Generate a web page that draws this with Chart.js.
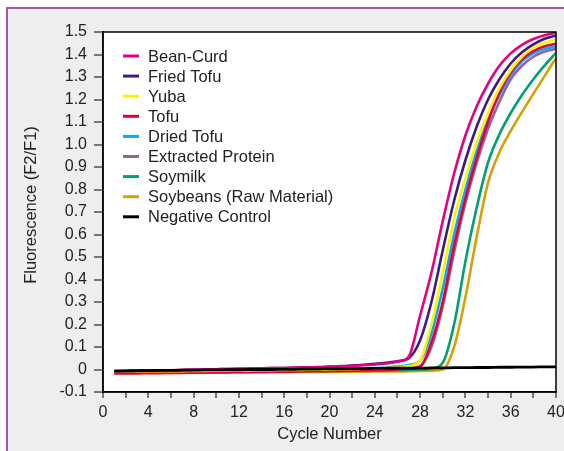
<!DOCTYPE html>
<html>
<head>
<meta charset="utf-8">
<script src="https://cdn.jsdelivr.net/npm/chart.js@4.4.1/dist/chart.umd.min.js"></script>
<style>
  html, body { margin: 0; padding: 0; background: #ffffff; }
  #wrap { position: relative; width: 564px; height: 451px; overflow: hidden; }
</style>
</head>
<body>
<div id="wrap"><canvas id="pcrChart" width="564" height="451"></canvas></div>
<script>
// Cycle numbers (x values)
const cycles = [1, 2, 3, 4, 5, 6, 7, 8, 9, 10, 11, 12, 13, 14, 15, 16, 17, 18, 19, 20,
  21, 22, 23, 24, 25, 26, 27, 28, 29, 30, 31, 32, 33, 34, 35, 36, 37, 38, 39, 40];

// Series names and colours
const seriesNames = ["Bean-Curd", "Fried Tofu", "Yuba", "Tofu", "Dried Tofu",
  "Extracted Protein", "Soymilk", "Soybeans (Raw Material)", "Negative Control"];
const seriesColors = ["#e4007f", "#3d1a86", "#fff200", "#e60033", "#00aeef",
  "#9b5ca6", "#00a170", "#d6a100", "#000000"];

// Fluorescence values
const beanCurd = [-0.008, -0.007, -0.006, -0.005, -0.004, -0.003, -0.002, -0.001, 0.000, 0.001,
  0.002, 0.003, 0.004, 0.005, 0.006, 0.007, 0.008, 0.009, 0.010, 0.012,
  0.014, 0.016, 0.019, 0.022, 0.027, 0.035, 0.058, 0.24, 0.43, 0.66,
  0.87, 1.04, 1.17, 1.27, 1.35, 1.405, 1.443, 1.469, 1.486, 1.497];
const friedTofu = [-0.008, -0.007, -0.006, -0.005, -0.004, -0.003, -0.002, -0.001, 0.000, 0.001,
  0.002, 0.003, 0.004, 0.005, 0.006, 0.007, 0.009, 0.010, 0.011, 0.013,
  0.015, 0.018, 0.021, 0.025, 0.030, 0.037, 0.050, 0.13, 0.30, 0.53,
  0.75, 0.93, 1.08, 1.20, 1.29, 1.36, 1.41, 1.445, 1.47, 1.485];
const yuba = [-0.010, -0.009, -0.009, -0.008, -0.008, -0.007, -0.007, -0.006, -0.006, -0.005,
  -0.005, -0.004, -0.004, -0.003, -0.003, -0.002, -0.002, -0.001, -0.001, 0.000,
  0.001, 0.002, 0.003, 0.004, 0.006, 0.009, 0.015, 0.04, 0.20, 0.43,
  0.67, 0.85, 1.01, 1.14, 1.25, 1.33, 1.39, 1.43, 1.452, 1.466];
const tofu = [-0.018, -0.017, -0.017, -0.016, -0.016, -0.015, -0.015, -0.014, -0.014, -0.013,
  -0.013, -0.012, -0.012, -0.011, -0.010, -0.010, -0.009, -0.008, -0.008, -0.007,
  -0.006, -0.005, -0.004, -0.003, -0.002, 0.000, 0.004, 0.012, 0.12, 0.30,
  0.55, 0.76, 0.94, 1.10, 1.23, 1.32, 1.38, 1.415, 1.437, 1.448];
const driedTofu = [-0.012, -0.011, -0.011, -0.010, -0.010, -0.009, -0.009, -0.008, -0.008, -0.007,
  -0.007, -0.006, -0.006, -0.005, -0.004, -0.004, -0.003, -0.002, -0.001, 0.000,
  0.001, 0.002, 0.004, 0.006, 0.009, 0.013, 0.020, 0.04, 0.16, 0.36,
  0.60, 0.80, 0.97, 1.11, 1.22, 1.31, 1.37, 1.405, 1.425, 1.436];
const extractedProtein = [-0.012, -0.012, -0.011, -0.011, -0.010, -0.010, -0.009, -0.009, -0.008, -0.008,
  -0.007, -0.007, -0.006, -0.006, -0.006, -0.005, -0.005, -0.005, -0.004, -0.004,
  -0.003, -0.003, -0.002, -0.001, 0.000, 0.002, 0.006, 0.016, 0.10, 0.28,
  0.52, 0.74, 0.92, 1.07, 1.19, 1.29, 1.35, 1.39, 1.413, 1.425];
const soymilk = [-0.010, -0.010, -0.010, -0.009, -0.009, -0.009, -0.009, -0.008, -0.008, -0.008,
  -0.008, -0.007, -0.007, -0.007, -0.007, -0.006, -0.006, -0.006, -0.006, -0.006,
  -0.005, -0.005, -0.005, -0.004, -0.004, -0.003, -0.002, 0.000, 0.004, 0.03,
  0.20, 0.48, 0.72, 0.92, 1.045, 1.14, 1.22, 1.29, 1.352, 1.407];
const soybeans = [-0.015, -0.015, -0.015, -0.014, -0.014, -0.014, -0.014, -0.013, -0.013, -0.013,
  -0.013, -0.012, -0.012, -0.012, -0.012, -0.012, -0.011, -0.011, -0.011, -0.011,
  -0.010, -0.010, -0.010, -0.009, -0.009, -0.009, -0.008, -0.007, -0.005, 0.000,
  0.10, 0.32, 0.59, 0.83, 0.965, 1.06, 1.145, 1.225, 1.305, 1.384];
const negativeControl = [-0.006, -0.006, -0.005, -0.005, -0.004, -0.004, -0.003, -0.003, -0.002, -0.002,
  -0.001, -0.001, 0.000, 0.000, 0.000, 0.001, 0.001, 0.002, 0.002, 0.003,
  0.003, 0.004, 0.004, 0.005, 0.005, 0.006, 0.006, 0.006, 0.007, 0.007,
  0.008, 0.008, 0.009, 0.009, 0.010, 0.010, 0.011, 0.011, 0.012, 0.012];

const seriesValues = [beanCurd, friedTofu, yuba, tofu, driedTofu,
  extractedProtein, soymilk, soybeans, negativeControl];

// Axis ranges and ticks
const xMin = 0, xMax = 40, xStep = 2, xLabelEvery = 4;
const yMin = -0.1, yMax = 1.5, yStep = 0.1;
const xTitle = "Cycle Number";
const yTitle = "Fluorescence (F2/F1)";

const FONT = "'Liberation Sans', Arial, sans-serif";
const TEXT_COLOR = "#222222";

// Build the datasets from the arrays
const datasets = seriesNames.map(function (name, i) {
  return {
    label: name,
    data: cycles.map((c, j) => ({ x: c, y: seriesValues[i][j] })),
    borderColor: seriesColors[i],
    backgroundColor: seriesColors[i],
    borderWidth: name === "Negative Control" ? 2.8 : 2.6,
    pointRadius: 0,
    cubicInterpolationMode: "monotone",
    fill: false,
    order: name === "Negative Control" ? -1 : 0,
  };
});

// Grey frame with purple edge, white plot area, black plot border
const framePlugin = {
  id: "frame",
  beforeDraw(chart) {
    const ctx = chart.ctx;
    const a = chart.chartArea;
    ctx.save();
    ctx.fillStyle = "#ffffff";
    ctx.fillRect(0, 0, chart.width, chart.height);
    ctx.fillStyle = "#eeeeee";
    ctx.fillRect(6, 7, chart.width, chart.height);
    ctx.fillStyle = "#a05aa8";
    ctx.fillRect(6, 7, 2, chart.height);
    ctx.fillRect(6, 7, chart.width, 2);
    ctx.fillStyle = "#ffffff";
    ctx.fillRect(a.left, a.top, a.right - a.left, a.bottom - a.top);
    ctx.restore();
  },
  afterDraw(chart) {
    const ctx = chart.ctx;
    const a = chart.chartArea;
    ctx.save();
    ctx.strokeStyle = "#000000";
    ctx.lineWidth = 1.5;
    ctx.strokeRect(a.left, a.top, a.right - a.left, a.bottom - a.top);
    // y axis title, a little above the middle of the axis
    ctx.translate(31, (a.top + a.bottom) / 2 - 7);
    ctx.rotate(-Math.PI / 2);
    ctx.font = "16.5px " + FONT;
    ctx.fillStyle = TEXT_COLOR;
    ctx.textAlign = "center";
    ctx.textBaseline = "middle";
    ctx.fillText(yTitle, 0, 0);
    ctx.restore();
  },
};

// Legend drawn inside the plot area
const insideLegend = {
  id: "insideLegend",
  afterDatasetsDraw(chart) {
    const ctx = chart.ctx;
    const a = chart.chartArea;
    const x0 = a.left + 20;
    const y0 = a.top + 24;
    const rowH = 20.1;
    ctx.save();
    ctx.font = "16.5px " + FONT;
    ctx.textBaseline = "middle";
    chart.data.datasets.forEach(function (ds, i) {
      const y = y0 + i * rowH;
      ctx.strokeStyle = ds.borderColor;
      ctx.lineWidth = 3;
      ctx.beginPath();
      ctx.moveTo(x0, y);
      ctx.lineTo(x0 + 16, y);
      ctx.stroke();
      ctx.fillStyle = TEXT_COLOR;
      ctx.fillText(ds.label, x0 + 25, y + 1);
    });
    ctx.restore();
  },
};

const config = {
  type: "line",
  data: { datasets: datasets },
  options: {
    responsive: false,
    animation: false,
    devicePixelRatio: 1,
    layout: { padding: { left: 0, top: 32, right: 8, bottom: 0 } },
    plugins: {
      legend: { display: false },
      tooltip: { enabled: false },
    },
    scales: {
      x: {
        type: "linear",
        min: xMin,
        max: xMax,
        afterFit(scale) {
          scale.height = 59;
          scale.paddingLeft = 0;
          scale.paddingRight = 0;
        },
        border: { color: "#000000", width: 1.5 },
        grid: { drawOnChartArea: false, drawTicks: true, tickLength: 6, color: "#777777", lineWidth: 2 },
        ticks: {
          stepSize: xStep,
          autoSkip: false,
          maxRotation: 0,
          padding: 5,
          color: TEXT_COLOR,
          font: { family: FONT, size: 16 },
          callback: (v) => (v % xLabelEvery === 0 ? String(v) : ""),
        },
        title: {
          display: true,
          text: xTitle,
          color: TEXT_COLOR,
          font: { family: FONT, size: 16.5 },
          padding: { top: 0, bottom: 7 },
        },
      },
      y: {
        min: yMin,
        max: yMax,
        afterFit(scale) {
          scale.width = 103;
          scale.paddingTop = 0;
          scale.paddingBottom = 0;
        },
        border: { color: "#000000", width: 1.5 },
        grid: { drawOnChartArea: false, drawTicks: true, tickLength: 9, color: "#777777", lineWidth: 2 },
        ticks: {
          stepSize: yStep,
          autoSkip: false,
          padding: 7,
          color: TEXT_COLOR,
          font: { family: FONT, size: 16 },
          callback: (v) => (Math.abs(v) < 1e-9 ? "0" : Number(v).toFixed(1)),
        },
      },
    },
  },
  plugins: [framePlugin, insideLegend],
};

const ctx = document.getElementById("pcrChart").getContext("2d");
const pcrChart = new Chart(ctx, config);
</script>
</body>
</html>
